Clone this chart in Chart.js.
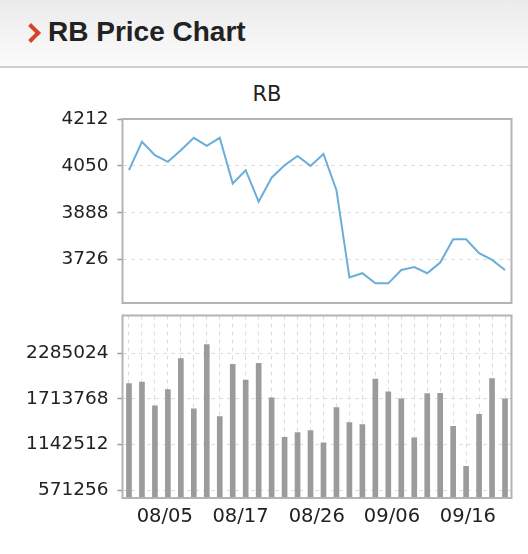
<!DOCTYPE html>
<html>
<head>
<meta charset="utf-8">
<script src="https://cdn.jsdelivr.net/npm/chart.js@4.4.0/dist/chart.umd.min.js"></script>
<style>
  html, body { margin: 0; padding: 0; background: #fff; }
  body { width: 528px; height: 554px; position: relative; overflow: hidden; }
  #head { position: absolute; left: 0; top: 0; width: 528px; height: 66px;
          background: linear-gradient(#ebebeb, #fbfbfb); border-bottom: 2px solid #cfcfcf; }
  #chev { position: absolute; left: 24px; top: 26px; width: 10px; height: 10px;
          border-top: 4px solid #d8422b; border-right: 4px solid #d8422b; transform: rotate(45deg); }
  #head h1 { position: absolute; left: 48px; top: 18px; margin: 0; color: #222;
             font: bold 28px/28px "Liberation Sans", Arial, sans-serif; }
  #sub { position: absolute; left: 167px; width: 200px; top: 84px; text-align: center; color: #222;
         font: 21px/21px "DejaVu Sans", sans-serif; }
  canvas { position: absolute; left: 0; }
  #top { top: 100px; }
  #bot { top: 306px; }
</style>
</head>
<body>
<div id="head"><span id="chev"></span><h1>RB Price Chart</h1></div>
<div id="sub">RB</div>
<canvas id="top" width="528" height="206"></canvas>
<canvas id="bot" width="528" height="232"></canvas>
<script>
// daily close, one value per bar
const price = [4035, 4133, 4087, 4064, 4104, 4147, 4119, 4147, 3989, 4035,
               3926, 4009, 4052, 4084, 4050, 4091, 3966, 3664, 3679, 3644,
               3644, 3690, 3700, 3679, 3716, 3796, 3796, 3748, 3725, 3690];
// daily volume
const volume = [1905000, 1926300, 1626300, 1830000, 2217500, 1588800, 2392500, 1492500, 2146300, 1951300,
                2158800, 1726300, 1233800, 1292500, 1317500, 1163800, 1605000, 1417500, 1392500, 1963800,
                1801300, 1713800, 1226300, 1780000, 1783800, 1371300, 871300, 1521300, 1967500, 1713800];
const priceTicks = [3726, 3888, 4050, 4212];
const volumeTicks = [571256, 1142512, 1713768, 2285024];
const dateLabels = ['08/05', '08/17', '08/26', '09/06', '09/16'];
const datePos = [2.76, 8.6, 14.48, 20.28, 26.14];

const tickFont = { family: 'DejaVu Sans', size: 18.5 };
const gridGray = '#dcdcdc';

// grey box round the plot area
const frame = {
  id: 'frame',
  afterDraw(chart) {
    const a = chart.chartArea, ctx = chart.ctx;
    ctx.save();
    ctx.strokeStyle = '#b4b4b4';
    ctx.lineWidth = 2;
    ctx.strokeRect(a.left, a.top, a.right - a.left, a.bottom - a.top);
    ctx.restore();
  }
};

function yAxis(min, max, ticks) {
  return {
    min: min, max: max,
    afterBuildTicks: s => { s.ticks = ticks.map(v => ({ value: v })); },
    afterFit: s => { s.width = 122.5; s.paddingTop = 0; s.paddingBottom = 0; },
    ticks: { font: tickFont, color: '#222', padding: 9, callback: v => String(v) },
    grid: { color: gridGray, tickColor: '#999', tickLength: 5, tickWidth: 1.5 },
    border: { display: false, dash: [4, 4] }
  };
}

Chart.defaults.animation = false;

new Chart(document.getElementById('top'), {
  type: 'line',
  data: {
    datasets: [{
      data: price.map((v, i) => ({ x: i, y: v })),
      borderColor: '#6aaddb', borderWidth: 2, pointRadius: 0, tension: 0
    }]
  },
  options: {
    responsive: false,
    layout: { padding: { top: 19, bottom: 3, right: 16.5 } },
    plugins: { legend: { display: false }, tooltip: { enabled: false } },
    scales: {
      x: { type: 'linear', min: -0.5, max: 29.5, display: false },
      y: yAxis(3576, 4212, priceTicks)
    }
  },
  plugins: [frame]
});

new Chart(document.getElementById('bot'), {
  type: 'bar',
  data: {
    datasets: [{
      data: volume.map((v, i) => ({ x: i, y: v })),
      backgroundColor: '#9b9b9b', barThickness: 5
    }]
  },
  options: {
    responsive: false,
    layout: { padding: { top: 9.5, right: 16.5 } },
    plugins: { legend: { display: false }, tooltip: { enabled: false } },
    scales: {
      x: {
        type: 'linear', min: -0.5, max: 29.5, offset: false,
        afterBuildTicks: s => {
          const vals = volume.map((_, i) => i).concat(datePos).sort((a, b) => a - b);
          s.ticks = vals.map(v => ({ value: v }));
        },
        afterFit: s => { s.height = 40; s.paddingLeft = 0; s.paddingRight = 0; },
        ticks: {
          font: { family: 'DejaVu Sans', size: 19.5 }, color: '#222', padding: 7,
          autoSkip: false, maxRotation: 0,
          callback: v => { const k = datePos.indexOf(v); return k < 0 ? '' : dateLabels[k]; }
        },
        grid: {
          offset: false,
          color: c => (c.tick && Number.isInteger(c.tick.value)) ? gridGray : 'transparent',
          drawTicks: false
        },
        border: { display: false, dash: [4, 4] }
      },
      y: yAxis(475000, 2757500, volumeTicks)
    }
  },
  plugins: [frame]
});
</script>
</body>
</html>
